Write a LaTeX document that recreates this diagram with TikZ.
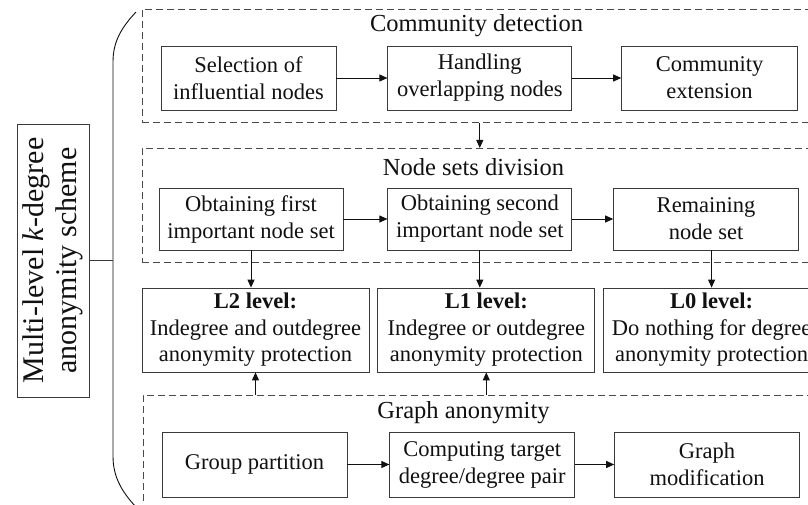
\documentclass[tikz,border=0pt]{standalone}
\usepackage{fontspec}
\setmainfont{Liberation Serif}
\usetikzlibrary{arrows.meta, positioning}
\definecolor{ink}{HTML}{111111}
\definecolor{edge}{HTML}{3A3A3A}
\definecolor{dashc}{HTML}{4A4A4A}

\begin{document}
\begin{tikzpicture}[x=1pt, y=1pt,
    every node/.style={text=ink},
    proc/.style={draw=edge, line width=0.8pt, align=center, inner sep=2pt, font=\fontsize{22.5}{27}\selectfont},
    lvl/.style={draw=edge, line width=0.8pt, align=center, inner sep=2pt, minimum height=84pt, font=\fontsize{22.5}{26.5}\selectfont},
    dashbox/.style={draw=dashc, line width=0.8pt, dash pattern=on 7pt off 4pt, anchor=north west, inner sep=0pt},
    ttl/.style={anchor=base, font=\fontsize{24.5}{29}\selectfont},
    flow/.style={-{Triangle[length=8pt, width=7pt]}, line width=0.9pt, ink}
]

% ---------------- canvas 808 x 504, cut at the right like the figure ----------------
\useasboundingbox (0,0) rectangle (808,504);
\fill[white] (0,0) rectangle (808,504);
\clip (0,0) rectangle (808,504);

% ---------------- left: scheme label and brace ----------------
\node[draw=edge, line width=0.8pt, rotate=90, minimum width=273pt, minimum height=72pt, align=center,
      inner sep=2pt, font=\fontsize{30}{33}\selectfont] (scheme) at (53,243.5)
    {Multi-level \textit{k}-degree\\anonymity scheme};
\coordinate (brc) at (113,242);
\draw[ink, line width=0.9pt] (136,492) .. controls (121,476) and (113,462) .. (113,442)
    -- (113,48) .. controls (113,28) and (121,13) .. (136,-3);
\draw[edge, line width=0.8pt] (scheme.south) -- (scheme.south -| brc);

% ---------------- dashed stages ----------------
\node[dashbox, minimum width=680pt, minimum height=113pt] (cd)  at (142,495) {};
\node[dashbox, minimum width=680pt, minimum height=114pt] (nsd) at (142,356) {};
\node[dashbox, minimum width=680pt, minimum height=125pt] (ga)  at (143,109) {};

\node[ttl] (cdt)  at (476.5,472.5) {Community detection};
\node[ttl] (nsdt) at (473.5,328) {Node sets division};
\node[ttl] (gat)  at (463.5,86) {Graph anonymity};

% ================= community detection =================
\node[proc, minimum width=175pt, minimum height=64pt] (sel) at (248.5,426) {Selection of\\influential nodes};
\node[proc, minimum width=184pt, minimum height=64pt, right=51pt of sel] (hand) {Handling\\overlapping nodes};
\node[proc, minimum width=176pt, minimum height=64pt, right=49pt of hand] (comm) {Community\\extension};
\draw[flow] (sel) -- (hand);
\draw[flow] (hand) -- (comm);

\draw[flow] (cd.south -| hand) -- (nsd.north -| hand);

% ================= node sets division =================
\node[proc, minimum width=184pt, minimum height=62pt] (first) at (251,285) {Obtaining first\\important node set};
\node[proc, minimum width=184pt, minimum height=62pt, right=44pt of first] (second) {Obtaining second\\important node set};
\node[proc, minimum width=185pt, minimum height=62pt, right=41pt of second] (rem) {Remaining\\node set};
\draw[flow] (first) -- (second);
\draw[flow] (second) -- (rem);

% ================= protection levels =================
\node[lvl, minimum width=227pt] (l2) at (255.5,174) {\textbf{L2 level:}\\Indegree and outdegree\\anonymity protection};
\node[lvl, minimum width=217pt, right=8pt of l2] (l1) {\textbf{L1 level:}\\Indegree or outdegree\\anonymity protection};
\node[lvl, minimum width=216pt, right=8pt of l1] (l0) {\textbf{L0 level:}\\Do nothing for degree\\anonymity protection};
\draw[flow] (first) -- (first |- l2.north);
\draw[flow] (second) -- (second |- l1.north);
\draw[flow] (rem.south -| l0) -- (l0);

% ================= graph anonymity =================
\node[proc, minimum width=185pt, minimum height=65pt] (grp) at (254.5,39.5) {Group partition};
\node[proc, minimum width=185pt, minimum height=65pt, right=42pt of grp] (comp) {Computing target\\degree/degree pair};
\node[proc, minimum width=185pt, minimum height=65pt, right=39pt of comp] (gmod) {Graph\\modification};
\draw[flow] (grp) -- (comp);
\draw[flow] (comp) -- (gmod);

\draw[flow] (ga.north -| l2) -- (l2);
\draw[flow] (ga.north -| l1) -- (l1);

\end{tikzpicture}
\end{document}
